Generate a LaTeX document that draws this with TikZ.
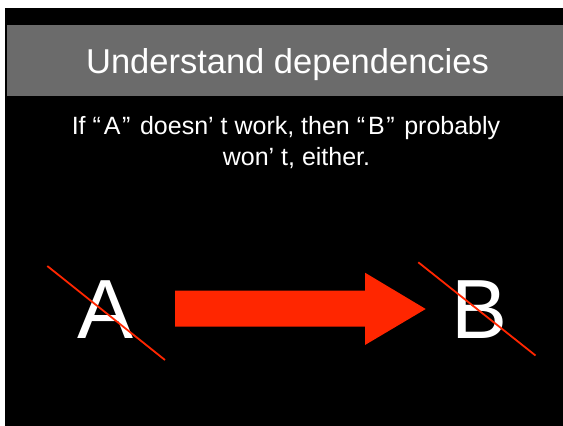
\documentclass[tikz,border=0pt]{standalone}
\usepackage{fontspec}
\setmainfont{Liberation Sans}
\definecolor{slidegray}{RGB}{107,107,107}
\definecolor{pptred}{RGB}{255,38,0}
\newcommand{\oq}{“\kern3pt}
\newcommand{\cq}{\kern1.6pt”\kern2.6pt}
\tikzset{
  slidetext/.style={text=white, inner sep=0pt, anchor=base},
  strike/.style={draw=pptred, line width=1.8pt},
}
\begin{document}
\begin{tikzpicture}[x=1pt,y=-1pt]
\useasboundingbox (0,0) rectangle (563,426);
\fill[white] (0,0) rectangle (563,426);
\fill[black] (5,8) rectangle (563,426);
\fill[slidegray] (7,25) rectangle (563,96);
\node[slidetext, font=\fontsize{34.5}{40}\selectfont] (title) at (287.5,73) {Understand dependencies};
\node[slidetext, font=\fontsize{25}{30}\selectfont] (line1) at (286,134.5) {If \oq A\cq{} doesn’ t work, then \oq B\cq{} probably};
\node[slidetext, font=\fontsize{25}{30}\selectfont] (line2) at (296.5,165) {won’ t, either.};
\node[slidetext, font=\fontsize{84}{90}\selectfont] (A) at (105.5,338) {A};
\node[slidetext, font=\fontsize{84}{90}\selectfont] (B) at (480,338) {B};
\fill[pptred] (175,290.7) -- (365,290.7) -- (365,272.7) -- (425.7,309) -- (365,345) -- (365,326.7) -- (175,326.7) -- cycle;
\draw[strike] (47.3,266) -- (165,360);
\draw[strike] (418.3,262.3) -- (535.5,355.5);
\end{tikzpicture}
\end{document}
